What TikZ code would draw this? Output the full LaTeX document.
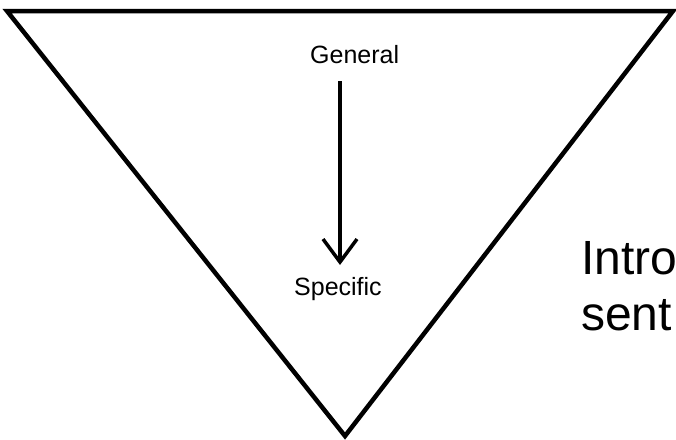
\documentclass[tikz,border=0pt]{standalone}
\usepackage{fontspec}
\setmainfont{Liberation Sans}
\usetikzlibrary{arrows.meta}
\tikzset{
  edge/.style={line width=4.5pt, line join=miter},
  smalltxt/.style={font=\fontsize{25}{30}\selectfont, inner sep=0pt, anchor=base west},
  bigtxt/.style={font=\fontsize{48}{56}\selectfont, inner sep=0pt, anchor=base west},
  flow/.style={line width=3.5pt, -{Straight Barb[length=23pt, width=34pt, line width=3.5pt]}}
}
\begin{document}
\begin{tikzpicture}[x=1pt, y=-1pt]
  \clip (0,0) rectangle (676,439);
  \fill[white] (0,0) rectangle (676,439);
  \coordinate (tl) at (7,11);
  \coordinate (tr) at (673,11);
  \coordinate (ap) at (345,436);
  \draw[edge] (tl) -- (tr) -- (ap) -- cycle;
  \node[smalltxt] (gen) at (310,63) {General};
  \node[smalltxt] (spec) at (294,295) {Specific};
  \coordinate (a1) at (340,81);
  \coordinate (a2) at (340,265);
  \draw[flow] (a1) -- (a2);
  \node[bigtxt] (intro1) at (581,274) {Intro};
  \node[bigtxt] (intro2) at (581,330) {sent};
\end{tikzpicture}
\end{document}
